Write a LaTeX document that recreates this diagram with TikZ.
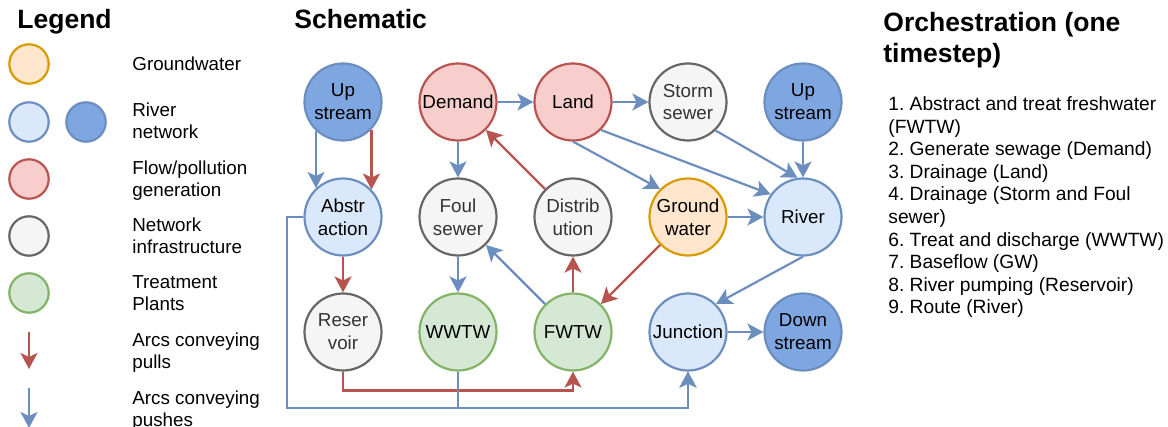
\documentclass[tikz,border=0pt]{standalone}
\usepackage{fontspec}
\setmainfont{Liberation Sans}
\usetikzlibrary{arrows.meta}
\frenchspacing

\definecolor{gwfill}{HTML}{FFE6CC}
\definecolor{gwline}{HTML}{D79B00}
\definecolor{rvfill}{HTML}{DAE8FC}
\definecolor{rvline}{HTML}{6C8EBF}
\definecolor{dkfill}{HTML}{7EA6E0}
\definecolor{rdfill}{HTML}{F8CECC}
\definecolor{rdline}{HTML}{B85450}
\definecolor{gyfill}{HTML}{F5F5F5}
\definecolor{gyline}{HTML}{666666}
\definecolor{gytext}{HTML}{333333}
\definecolor{grfill}{HTML}{D5E8D4}
\definecolor{grline}{HTML}{82B366}

\tikzset{
  unit/.style={circle, draw, line width=1.1pt, minimum size=38.5pt, inner sep=0pt,
    align=center, font=\fontsize{9.4}{11.4}\selectfont},
  gwnode/.style={unit, draw=gwline, fill=gwfill},
  rivernode/.style={unit, draw=rvline, fill=rvfill},
  endnode/.style={unit, draw=rvline, fill=dkfill},
  gennode/.style={unit, draw=rdline, fill=rdfill},
  infranode/.style={unit, draw=gyline, fill=gyfill, text=gytext},
  plantnode/.style={unit, draw=grline, fill=grfill},
  keynode/.style={minimum size=19.7pt},
  push/.style={draw=rvline, line width=1.1pt, -{Stealth[length=8pt,width=8.5pt,inset=2pt]}},
  pull/.style={draw=rdline, line width=1.1pt, -{Stealth[length=8pt,width=8.5pt,inset=2pt]}},
  keytext/.style={anchor=base west, align=left, inner sep=0pt, font=\fontsize{9.4}{11}\selectfont},
  steptext/.style={anchor=base west, align=left, inner sep=0pt, font=\fontsize{9.6}{11.3}\selectfont},
  heading/.style={anchor=base west, align=left, inner sep=0pt, font=\bfseries\fontsize{13.25}{15.5}\selectfont},
}

\begin{document}
\begin{tikzpicture}[x=0.5pt, y=-0.5pt]
  \useasboundingbox (0,0) rectangle (1168,427);

  % legend (multi-line texts sit on their last baseline)
  \node[heading] (hlegend) at (17,29) {Legend};
  \node[gwnode, keynode] (kgw) at (29,64) {};
  \node[rivernode, keynode] (kriver) at (29,122) {};
  \node[endnode, keynode] (kend) at (86,122) {};
  \node[gennode, keynode] (kgen) at (29,179) {};
  \node[infranode, keynode] (kinfra) at (29,236) {};
  \node[plantnode, keynode] (kplant) at (29,293) {};
  \coordinate (kpullfrom) at (29,332);
  \coordinate (kpullto) at (29,369);
  \coordinate (kpushfrom) at (29,388);
  \coordinate (kpushto) at (29,428);
  \draw[pull] (kpullfrom) -- (kpullto);
  \draw[push] (kpushfrom) -- (kpushto);
  \node[keytext] (tgw) at (132,71) {Groundwater};
  \node[keytext] (triver) at (132,139) {River\\network};
  \node[keytext] (tgen) at (132,197) {Flow/pollution\\generation};
  \node[keytext] (tinfra) at (132,254) {Network\\infrastructure};
  \node[keytext] (tplant) at (132,311) {Treatment\\Plants};
  \node[keytext] (tpull) at (132,369) {Arcs conveying\\pulls};
  \node[keytext] (tpush) at (132,427) {Arcs conveying\\pushes};

  % schematic
  \node[heading] (hschem) at (294,29) {Schematic};
  \node[endnode] (up1) at (343,102) {Up\\stream};
  \node[gennode] (demand) at (458,102) {Demand};
  \node[gennode] (land) at (573,102) {Land};
  \node[infranode] (storm) at (688,102) {Storm\\sewer};
  \node[endnode] (up2) at (803,102) {Up\\stream};
  \node[rivernode] (abstr) at (343,217) {Abstr\\action};
  \node[infranode] (foul) at (458,217) {Foul\\sewer};
  \node[infranode] (distr) at (573,217) {Distrib\\ution};
  \node[gwnode] (gw) at (688,217) {Ground\\water};
  \node[rivernode] (river) at (803,217) {River};
  \node[infranode] (res) at (343,332) {Reser\\voir};
  \node[plantnode] (wwtw) at (458,332) {WWTW};
  \node[plantnode] (fwtw) at (573,332) {FWTW};
  \node[rivernode] (junction) at (688,332) {Junction};
  \node[endnode] (down) at (803,332) {Down\\stream};
  \coordinate (busleft) at (287,408);

  \draw[push] (up1.-133) -- (abstr.133);
  \draw[pull] (up1.-44) -- (abstr.44);
  \draw[pull] (abstr) -- (res);
  \draw[push] (demand) -- (land);
  \draw[push] (demand) -- (foul);
  \draw[push] (foul) -- (wwtw);
  \draw[push] (fwtw.135) -- (foul.-45);
  \draw[pull] (distr.135) -- (demand.-45);
  \draw[pull] (fwtw) -- (distr);
  \draw[push] (land) -- (storm);
  \draw[push] (land.south) -- (gw.135);
  \draw[push] (land.-45) -- (river.145);
  \draw[push] (storm.-46) -- (river.98);
  \draw[push] (up2) -- (river);
  \draw[push] (gw) -- (river);
  \draw[pull] (gw.-135) -- (fwtw.45);
  \draw[push] (river.south) -- (junction.45);
  \draw[push] (junction) -- (down);
  \draw[pull] (res.south) -- ++(0,19) -| (fwtw.south);
  \draw[push] (abstr.west) -| (busleft) -| (junction.south);
  \draw[push] (wwtw.south) |- (junction.south |- busleft) -- (junction.south);

  % orchestration
  \node[heading] (horch) at (883,63) {Orchestration (one\\timestep)};
  \node[steptext] (steps) at (888,314) {1. Abstract and treat freshwater\\(FWTW)\\2. Generate sewage (Demand)\\3. Drainage (Land)\\4. Drainage (Storm and Foul\\sewer)\\6. Treat and discharge (WWTW)\\7. Baseflow (GW)\\8. River pumping (Reservoir)\\9. Route (River)};
\end{tikzpicture}
\end{document}
